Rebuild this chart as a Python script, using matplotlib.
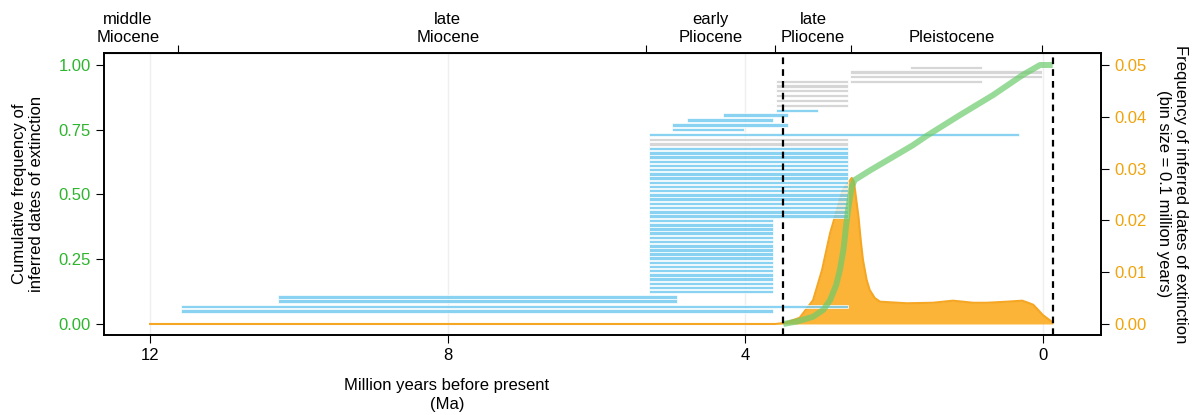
import matplotlib
matplotlib.use("Agg")
import matplotlib.pyplot as plt
import matplotlib.transforms as mtransforms

plt.rcParams['font.family'] = ['Liberation Sans', 'DejaVu Sans']
plt.rcParams['font.size'] = 12

# date ranges (Ma) of the records, bottom to top
bar_start = [11.59, 11.59, 10.28, 10.28] + [5.30] * 18 + [5.30] * 17 + \
    [5.30, 5.30, 5.30, 4.99, 4.99, 4.79, 4.30, 3.59] + [3.59] * 6 + \
    [2.59, 2.59, 2.59, 1.79]
bar_end = [3.63, 2.62, 4.92, 4.92] + [3.63] * 18 + [2.62] * 17 + \
    [2.62, 2.62, 0.32, 4.02, 3.43, 3.63, 3.43, 3.02] + [2.62] * 6 + \
    [0.82, 0.01, 0.01, 0.82]
bar_y = [0.050, 0.068, 0.089, 0.104,
         0.125, 0.141, 0.157, 0.173, 0.189, 0.206, 0.222, 0.238, 0.254,
         0.270, 0.286, 0.302, 0.318, 0.334, 0.351, 0.367, 0.383, 0.399,
         0.417, 0.433, 0.450, 0.466, 0.482, 0.498, 0.515, 0.531, 0.547,
         0.563, 0.580, 0.596, 0.612, 0.628, 0.645, 0.661, 0.677,
         0.695, 0.713, 0.732, 0.750, 0.768, 0.788, 0.806, 0.825,
         0.844, 0.862, 0.883, 0.901, 0.919, 0.936,
         0.936, 0.955, 0.973, 0.991]
bar_kind = ['b'] * 39 + ['g', 'g'] + ['b'] * 6 + ['g'] * 10

# cumulative frequency of inferred extinction dates
cum_ma = [3.49, 3.30, 3.09, 2.95, 2.86, 2.78, 2.73, 2.68, 2.65, 2.62, 2.57,
          2.53, 2.33, 1.75, 1.56, 1.12, 0.67, 0.27, 0.04, -0.13]
cum_val = [0.0, 0.010, 0.028, 0.055, 0.093, 0.15, 0.208, 0.29, 0.37, 0.44,
           0.53, 0.556, 0.592, 0.69, 0.727, 0.806, 0.884, 0.962, 1.0, 1.0]

# frequency of inferred dates (bin 0.1 Myr)
dens_ma = [12.0, 3.6, 3.47, 3.27, 3.09, 2.97, 2.86, 2.77, 2.69, 2.59, 2.57,
           2.54, 2.51, 2.48, 2.45, 2.42, 2.37, 2.33, 2.26, 2.19, 1.83, 1.48,
           1.21, 0.94, 0.75, 0.49, 0.28, 0.20, 0.13, 0.0, -0.13]
dens_val = [0, 0, 0.0002, 0.0012, 0.0046, 0.0104, 0.0176, 0.0220, 0.0259,
            0.0278, 0.0282, 0.0274, 0.0240, 0.0207, 0.0162, 0.0124, 0.0085,
            0.0066, 0.0050, 0.0043, 0.0040, 0.0041, 0.0045, 0.0041, 0.0041,
            0.0043, 0.0045, 0.0041, 0.0037, 0.0017, 0.0003]

bounds = [11.63, 5.333, 3.6, 2.58, 0.0117]
epochs = ["middle\nMiocene", "late\nMiocene", "early\nPliocene",
          "late\nPliocene", "Pleistocene"]
epoch_pos = [12.3, 8.0, 4.47, 3.09, 1.22]
limits = [3.49, -0.13]

green = '#2db52d'
orange = '#f0a30a'

fig = plt.figure(figsize=(11.92, 4.15), dpi=100)
ax = fig.add_axes([0.0872, 0.1928, 0.8365, 0.6795])
ax2 = ax.twinx()

# orange density on the back axis
ax2.set_facecolor('#fafafa')
for x in [12, 8, 4, 0]:
    ax2.axvline(x, color='#efefef', lw=1, zorder=0)
ax2.fill_between(dens_ma, dens_val, 0, color='#fbb02d', alpha=0.95, lw=0)
ax2.plot(dens_ma, dens_val, color='#f5a623', lw=1.5)
ax2.set_ylim(-0.002124, 0.05232)
ax2.set_yticks([0, 0.01, 0.02, 0.03, 0.04, 0.05])
ax2.set_yticklabels([f"{v:.2f}" for v in [0, 0.01, 0.02, 0.03, 0.04, 0.05]])
ax2.tick_params(axis='y', colors='black', labelcolor=orange, length=6)
ax2.set_ylabel("Frequency of inferred dates of extinction\n(bin size = 0.1 million years)",
               rotation=270, labelpad=30)

# bars and cumulative curve in front
ax.set_zorder(ax2.get_zorder() + 1)
ax.patch.set_visible(False)
for s, e, y, k in zip(bar_start, bar_end, bar_y, bar_kind):
    if k == 'b':
        c, a = '#74cbef', 0.85
    else:
        c, a = '#d4d4d4', 0.95
    ax.barh(y, e - s, left=s, height=0.0135, color=c, edgecolor='white',
            lw=0.6, alpha=a)
ax.plot(cum_ma, cum_val, color='#6ccb6c', lw=4.3, alpha=0.7,
        solid_capstyle='butt')
for x in limits:
    ax.axvline(x, color='black', ls=(0, (3, 2.3)), lw=1.6)

ax.set_xlim(12.62, -0.78)
ax.set_ylim(-0.0425, 1.0463)
ax.set_xticks([12, 8, 4, 0])
ax.set_yticks([0, 0.25, 0.5, 0.75, 1.0])
ax.set_yticklabels(["0.00", "0.25", "0.50", "0.75", "1.00"])
ax.tick_params(axis='y', labelcolor=green, length=6)
ax.tick_params(axis='x', length=6)
ax.set_ylabel("Cumulative frequency of\ninferred dates of extinction", labelpad=10)
for a in (ax, ax2):
    for sp in a.spines.values():
        sp.set_color('black')
        sp.set_linewidth(1.2)

# epochs along the top
top = ax.secondary_xaxis('top')
top.set_xticks(bounds)
top.set_xticklabels([])
top.tick_params(length=6)
trans = mtransforms.blended_transform_factory(ax.transData, ax.transAxes)
for lab, x in zip(epochs, epoch_pos):
    ax.text(x, 1.03, lab, transform=trans, ha='center', va='bottom',
            linespacing=1.2)

fig.text(447 / 1192, 1 - 395 / 415, "Million years before present\n(Ma)",
         ha='center', va='center', linespacing=1.3)

fig.savefig("out.png", dpi=100)
